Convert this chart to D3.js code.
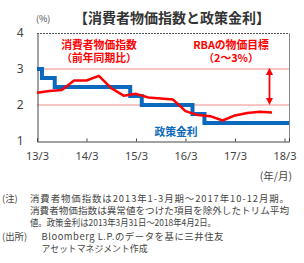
<!DOCTYPE html>
<html><head><meta charset="utf-8">
<script src="https://cdn.jsdelivr.net/npm/d3@7"></script>
<style>
html,body{margin:0;padding:0;background:#fff;}
svg{display:block;font-family:"Noto Sans CJK JP","Noto Sans",sans-serif;}
</style></head>
<body><svg id="c" width="304" height="263"></svg>
<script>
// months since 2013/3
const cpiMonths = [0,3,6,9,12,15,18,21,24,27,30,33,36,39,42,45,48,51,54,57];
const cpiValues = [2.34,2.39,2.42,2.68,2.68,2.81,2.47,2.26,2.31,2.21,2.18,2.15,1.83,1.72,1.69,1.57,1.71,1.78,1.81,1.79];
const rateMonths = [0,1.2,4.3,22.6,25.4,37.7,40.6,61.1];
const rateValues = [3.00,2.75,2.50,2.25,2.00,1.75,1.50,1.50];
const xTickMonths = [0,12,24,36,48,60];
const xTickLabels = ["13/3","14/3","15/3","16/3","17/3","18/3"];
const yTicks = [1,2,3,4];
const notePrefixes = ["(注)","","","(出所)",""];
const noteLines = [
  "消費者物価指数は2013年1-3月期～2017年10-12月期。",
  "消費者物価指数は異常値をつけた項目を除外したトリム平均",
  "値。政策金利は2013年3月31日～2018年4月2日。",
  "Bloomberg L.P.のデータを基に三井住友",
  "アセットマネジメント作成"
];
const noteWidths = [259,259,186,182,106];
const noteAdjust = ["spacing","spacingAndGlyphs","spacingAndGlyphs","spacing","spacingAndGlyphs"];

const svg = d3.select("#c");
const L=37, R=289, T=33, B=141;
const x = d3.scaleLinear().domain([0,61.1]).range([L,R]);
const y = d3.scaleLinear().domain([1,4]).range([B,T]);

// title
svg.append("text").attr("x",172).attr("y",23).attr("text-anchor","middle")
  .attr("font-size",14).attr("font-weight","bold").attr("fill","#333")
  .text("【消費者物価指数と政策金利】");
svg.append("text").attr("x",36).attr("y",22).attr("font-size",9).attr("fill","#444").text("(%)");

// gridlines
svg.selectAll("line.grid").data([2,3]).join("line")
  .attr("x1",L).attr("x2",R).attr("y1",d=>y(d)).attr("y2",d=>y(d))
  .attr("stroke","#f08a8a").attr("stroke-width",1);
// top dashed border
svg.append("line").attr("x1",L).attr("x2",R).attr("y1",y(4)+0.5).attr("y2",y(4)+0.5)
  .attr("stroke","#555").attr("stroke-dasharray","2,1");
// right border
svg.append("line").attr("x1",R+0.5).attr("x2",R+0.5).attr("y1",T).attr("y2",B)
  .attr("stroke","#888");

// y axis
const ya = svg.append("g").attr("transform",`translate(${L+0.5},0)`)
  .call(d3.axisLeft(y).tickValues(yTicks).tickSize(0).tickPadding(14).tickFormat(d3.format("d")));
ya.select(".domain").attr("stroke","#444");
ya.selectAll("text").attr("font-size",12).attr("fill","#444").attr("font-family","'Noto Sans','DejaVu Sans',sans-serif");

// x axis
const xa = svg.append("g").attr("transform",`translate(0,${B+0.5})`)
  .call(d3.axisBottom(x).tickValues(xTickMonths).tickSize(-3).tickPadding(11)
    .tickFormat((d,i)=>xTickLabels[i]));
xa.select(".domain").attr("stroke","#444");
xa.selectAll(".tick line").attr("stroke","#444");
xa.selectAll("text").attr("font-size",11).attr("fill","#444").attr("font-family","'Noto Sans','DejaVu Sans',sans-serif");
svg.append("text").attr("x",292).attr("y",180).attr("text-anchor","end")
  .attr("font-size",10.5).attr("fill","#444").text("(年/月)");

// policy rate (step)
const rateData = rateMonths.map((m,i)=>({m,v:rateValues[i]}));
svg.append("path").datum(rateData)
  .attr("d",d3.line().x(d=>x(d.m)).y(d=>y(d.v)).curve(d3.curveStepAfter))
  .attr("fill","none").attr("stroke","#0a68bd").attr("stroke-width",4);

// CPI
const cpiData = cpiMonths.map((m,i)=>({m,v:cpiValues[i]}));
svg.append("path").datum(cpiData)
  .attr("d",d3.line().x(d=>x(d.m)).y(d=>y(d.v)))
  .attr("fill","none").attr("stroke","#ff0000").attr("stroke-width",2.5).attr("stroke-linejoin","round");

// annotations
const red="#ff0000";
const ann = [
  {x:99,y:49,t:"消費者物価指数",c:red},
  {x:99,y:62,t:"（前年同期比）",c:red},
  {x:231,y:49,t:"RBAの物価目標",c:red},
  {x:231,y:62,t:"（2～3%）",c:red},
  {x:176,y:136,t:"政策金利",c:"#0a68bd"}
];
svg.selectAll("text.ann").data(ann).join("text").attr("class","ann")
  .attr("x",d=>d.x).attr("y",d=>d.y).attr("text-anchor","middle")
  .attr("font-size",10.8).attr("font-weight","bold").attr("fill",d=>d.c).text(d=>d.t);

// double arrow
const defs = svg.append("defs");
defs.append("marker").attr("id","ah").attr("viewBox","0 0 10 10").attr("refX",5).attr("refY",5)
  .attr("markerWidth",4).attr("markerHeight",5).attr("orient","auto-start-reverse")
  .append("path").attr("d","M0,0L10,5L0,10z").attr("fill",red);
const ax = 269.5;
svg.append("line").attr("x1",ax).attr("x2",ax).attr("y1",y(2.93)).attr("y2",y(2.1))
  .attr("stroke",red).attr("stroke-width",1.8)
  .attr("marker-start","url(#ah)").attr("marker-end","url(#ah)");

// notes
const ng = svg.append("g").attr("font-size",9.4).attr("fill","#444");
noteLines.forEach((t,i)=>{
  const yy = 201.5 + i*12.2 + (i>=3?2:0);
  const indent = i>=3 ? 41.5 : 30;
  if(notePrefixes[i]) ng.append("text").attr("x",2).attr("y",yy).text(notePrefixes[i]);
  ng.append("text").attr("x",indent).attr("y",yy)
    .attr("textLength",noteWidths[i]).attr("lengthAdjust",noteAdjust[i]).text(t);
});
</script></body></html>
